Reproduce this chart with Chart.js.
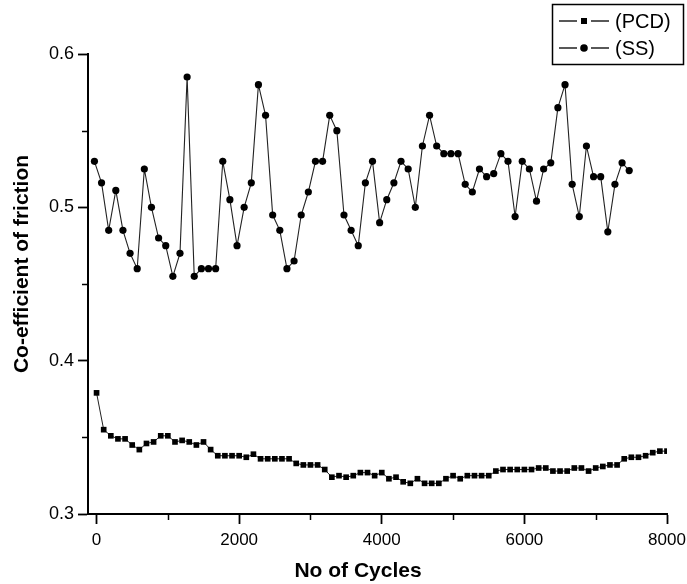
<!DOCTYPE html>
<html>

<head>
    <title>Co-efficient of friction vs cycles</title>
    <style>
        body { margin: 0; background: #fff; }
    </style>
</head>

<body>
    <canvas id="myChart" width="687" height="584"></canvas>
    <script src="https://cdn.jsdelivr.net/npm/chart.js@4"></script>

    <script type="text/javascript">
        // PCD readings, one every 100 cycles
        const pcdCycles = [0, 100, 200, 300, 400, 500, 600, 700, 800, 900, 1000, 1100, 1200, 1300, 1400, 1500, 1600, 1700, 1800, 1900,
            2000, 2100, 2200, 2300, 2400, 2500, 2600, 2700, 2800, 2900, 3000, 3100, 3200, 3300, 3400, 3500, 3600, 3700, 3800, 3900,
            4000, 4100, 4200, 4300, 4400, 4500, 4600, 4700, 4800, 4900, 5000, 5100, 5200, 5300, 5400, 5500, 5600, 5700, 5800, 5900,
            6000, 6100, 6200, 6300, 6400, 6500, 6600, 6700, 6800, 6900, 7000, 7100, 7200, 7300, 7400, 7500, 7600, 7700, 7800, 7900, 8000];
        const pcdFriction = [0.379, 0.355, 0.351, 0.349, 0.349, 0.345, 0.342, 0.346, 0.347, 0.351,
            0.351, 0.347, 0.348, 0.347, 0.345, 0.347, 0.342, 0.338, 0.338, 0.338,
            0.338, 0.337, 0.339, 0.336, 0.336, 0.336, 0.336, 0.336, 0.333, 0.332,
            0.332, 0.332, 0.329, 0.324, 0.325, 0.324, 0.325, 0.327, 0.327, 0.325,
            0.327, 0.323, 0.324, 0.321, 0.320, 0.323, 0.320, 0.320, 0.320, 0.323,
            0.325, 0.323, 0.325, 0.325, 0.325, 0.325, 0.328, 0.329, 0.329, 0.329,
            0.329, 0.329, 0.330, 0.330, 0.328, 0.328, 0.328, 0.330, 0.330, 0.328,
            0.330, 0.331, 0.332, 0.332, 0.336, 0.337, 0.337, 0.338, 0.340, 0.341, 0.341];

        // SS readings
        const ssCycles = [-30, 70, 170, 270, 370, 470, 570, 670, 770, 870, 970, 1070, 1170, 1270, 1370, 1470, 1570, 1670, 1770, 1870,
            1970, 2070, 2170, 2270, 2370, 2470, 2570, 2670, 2770, 2870, 2970, 3070, 3170, 3270, 3370, 3470, 3570, 3670, 3770, 3870,
            3970, 4070, 4170, 4270, 4370, 4470, 4570, 4670, 4770, 4870, 4970, 5070, 5170, 5270, 5370, 5470, 5570, 5670, 5770, 5870,
            5970, 6070, 6170, 6270, 6370, 6470, 6570, 6670, 6770, 6870, 6970, 7070, 7170, 7270, 7370, 7470];
        const ssFriction = [0.530, 0.516, 0.485, 0.511, 0.485, 0.470, 0.460, 0.525, 0.500, 0.480,
            0.475, 0.455, 0.470, 0.585, 0.455, 0.460, 0.460, 0.460, 0.530, 0.505,
            0.475, 0.500, 0.516, 0.580, 0.560, 0.495, 0.485, 0.460, 0.465, 0.495,
            0.510, 0.530, 0.530, 0.560, 0.550, 0.495, 0.485, 0.475, 0.516, 0.530,
            0.490, 0.505, 0.516, 0.530, 0.525, 0.500, 0.540, 0.560, 0.540, 0.535,
            0.535, 0.535, 0.515, 0.510, 0.525, 0.520, 0.522, 0.535, 0.530, 0.494,
            0.530, 0.525, 0.504, 0.525, 0.529, 0.565, 0.580, 0.515, 0.494, 0.540,
            0.520, 0.520, 0.484, 0.515, 0.529, 0.524];

        const xTicks = [0, 2000, 4000, 6000, 8000];
        const yTicks = [0.3, 0.4, 0.5, 0.6];
        const seriesNames = ['(PCD)', '(SS)'];

        const ink = '#000';
        const font = "'Liberation Sans', Arial, sans-serif";

        // minor ticks, axis titles and the boxed legend
        const extras = {
            id: 'extras',
            afterDraw(chart) {
                const ctx = chart.ctx;
                const xs = chart.scales.x, ys = chart.scales.y;
                ctx.save();
                ctx.strokeStyle = ink;
                ctx.lineWidth = 1.5;
                for (let i = 0; i < xTicks.length - 1; i++) {
                    const px = Math.round(xs.getPixelForValue((xTicks[i] + xTicks[i + 1]) / 2)) + 0.5;
                    ctx.beginPath(); ctx.moveTo(px, xs.top); ctx.lineTo(px, xs.top + 6); ctx.stroke();
                }
                for (let i = 0; i < yTicks.length - 1; i++) {
                    const py = Math.round(ys.getPixelForValue((yTicks[i] + yTicks[i + 1]) / 2)) + 0.5;
                    ctx.beginPath(); ctx.moveTo(ys.right, py); ctx.lineTo(ys.right - 6, py); ctx.stroke();
                }

                ctx.fillStyle = ink;
                ctx.textAlign = 'center';
                ctx.textBaseline = 'middle';
                ctx.font = 'bold 21px ' + font;
                ctx.fillText('No of Cycles', 358, 571);
                ctx.save();
                ctx.translate(22, 264);
                ctx.rotate(-Math.PI / 2);
                ctx.fillText('Co-efficient of friction', 0, 0);
                ctx.restore();

                // legend
                ctx.lineWidth = 1.5;
                ctx.strokeRect(552.5, 4.5, 131, 60);
                ctx.textAlign = 'left';
                ctx.font = '20px ' + font;
                const rows = [21, 48];
                chart.data.datasets.forEach((ds, i) => {
                    const y = rows[i];
                    ctx.strokeStyle = '#222';
                    ctx.lineWidth = 1.4;
                    ctx.beginPath();
                    ctx.moveTo(559, y); ctx.lineTo(577, y);
                    ctx.moveTo(591, y); ctx.lineTo(609, y);
                    ctx.stroke();
                    ctx.fillStyle = ink;
                    if (ds.pointStyle === 'rect') {
                        ctx.fillRect(581, y - 3, 6, 6);
                    } else {
                        ctx.beginPath(); ctx.arc(584, y, 3.8, 0, Math.PI * 2); ctx.fill();
                    }
                    ctx.fillText(ds.label, 615, y + 1);
                });
                ctx.restore();
            }
        };

        const ctx = document.getElementById('myChart').getContext('2d');
        const chart = new Chart(ctx, {
            type: 'line',
            data: {
                datasets: [{
                    label: seriesNames[0],
                    data: pcdCycles.map((c, i) => ({ x: c, y: pcdFriction[i] })),
                    borderColor: '#222',
                    borderWidth: 1,
                    backgroundColor: ink,
                    pointStyle: 'rect',
                    pointRadius: 4,
                    pointBorderWidth: 0,
                    pointBackgroundColor: ink,
                    tension: 0
                }, {
                    label: seriesNames[1],
                    data: ssCycles.map((c, i) => ({ x: c, y: ssFriction[i] })),
                    borderColor: '#222',
                    borderWidth: 1.1,
                    backgroundColor: ink,
                    pointStyle: 'circle',
                    pointRadius: 3.6,
                    pointBorderWidth: 0,
                    pointBackgroundColor: ink,
                    tension: 0
                }]
            },
            options: {
                responsive: false,
                animation: false,
                events: [],
                layout: { padding: { left: 0, right: 20, top: 54, bottom: 0 } },
                plugins: { legend: { display: false }, tooltip: { enabled: false } },
                scales: {
                    x: {
                        type: 'linear',
                        min: -120,
                        max: 8000,
                        afterBuildTicks: s => { s.ticks = xTicks.map(v => ({ value: v })); },
                        afterFit: s => { s.height = 70; s.paddingLeft = 0; s.paddingRight = 0; },
                        ticks: { callback: v => String(v), color: ink, font: { family: font, size: 17 }, padding: 6, maxRotation: 0 },
                        grid: { drawOnChartArea: false, tickLength: 10, tickColor: ink, tickWidth: 1.8 },
                        border: { color: ink, width: 2 }
                    },
                    y: {
                        min: 0.3,
                        max: 0.6,
                        afterBuildTicks: s => { s.ticks = yTicks.map(v => ({ value: v })); },
                        afterFit: s => { s.width = 88; s.paddingTop = 0; s.paddingBottom = 0; },
                        ticks: { callback: v => v.toFixed(1), color: ink, font: { family: font, size: 18 }, padding: 4 },
                        grid: { drawOnChartArea: false, tickLength: 10, tickColor: ink, tickWidth: 1.8 },
                        border: { color: ink, width: 2 }
                    }
                }
            },
            plugins: [extras]
        });
    </script>
</body>

</html>
